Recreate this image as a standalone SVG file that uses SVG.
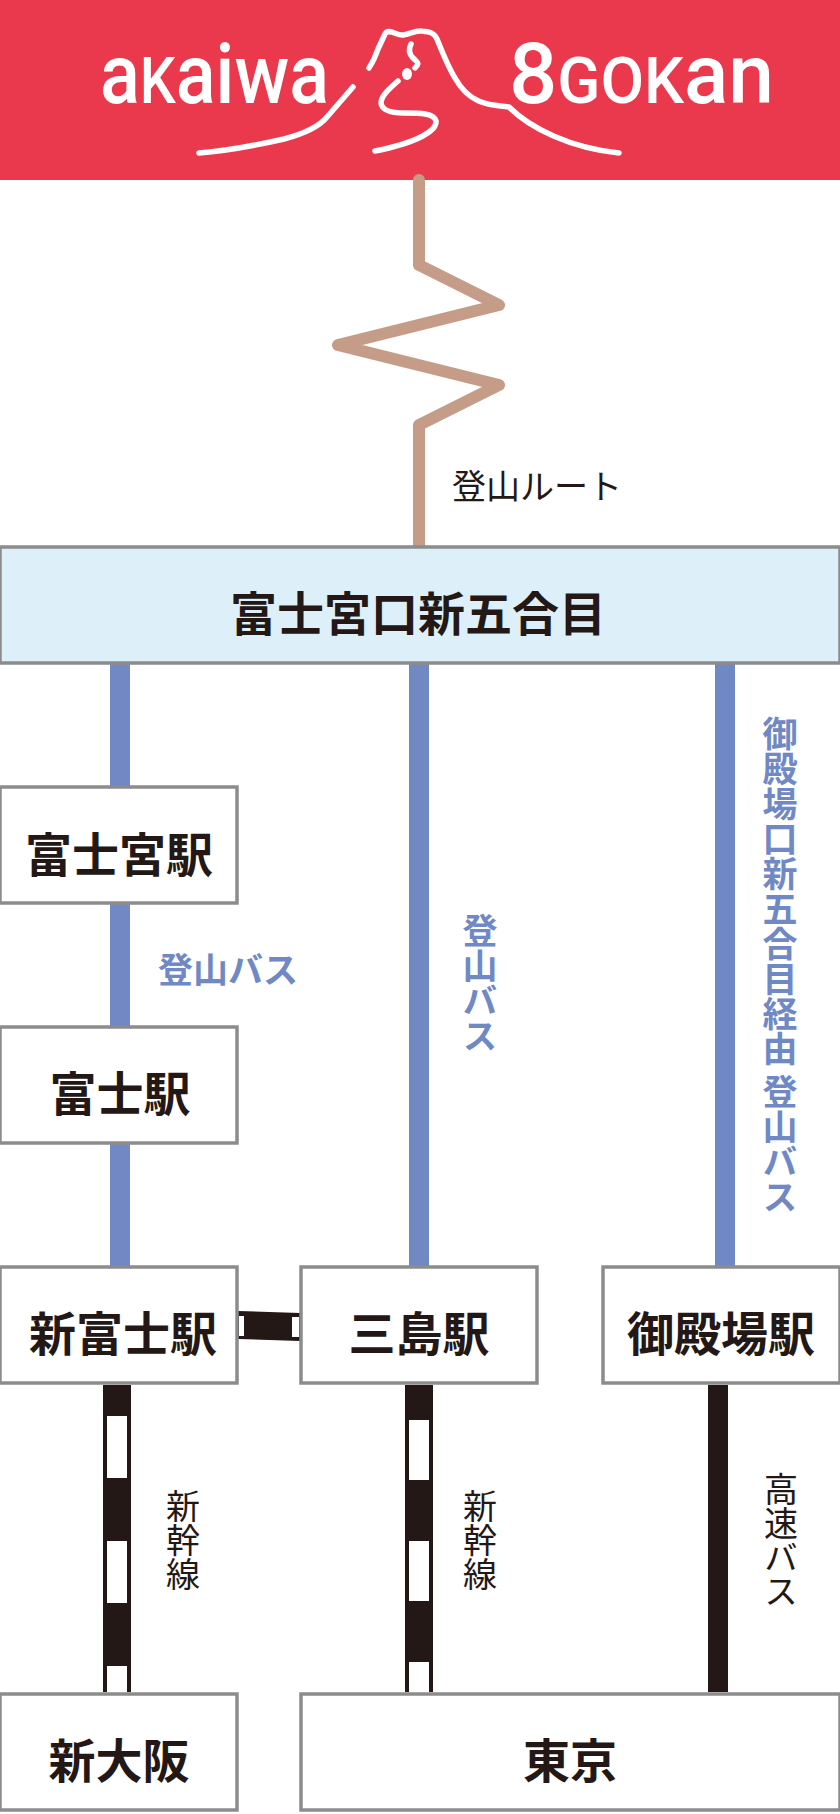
<svg xmlns="http://www.w3.org/2000/svg" width="840" height="1814" viewBox="0 0 840 1814">
<style>
.box{fill:#fff;stroke:#8c8c8c;stroke-width:3.5}
.t{font-family:"Noto Sans CJK JP","Noto Sans",sans-serif;font-weight:700;font-size:47px;fill:#231815;text-anchor:middle;dominant-baseline:central}
.blue{font-family:"Noto Sans CJK JP","Noto Sans",sans-serif;font-weight:700;font-size:35px;fill:#7089c5}
.thin{font-family:"Noto Sans CJK JP","Noto Sans",sans-serif;font-weight:400;font-size:34px;fill:#231815}
.v{writing-mode:vertical-rl;text-anchor:middle;dominant-baseline:central}
.logo{font-family:Roboto,"Liberation Sans",sans-serif;font-weight:500;font-size:83px;fill:#fff}
.lg{fill:none;stroke:#fff;stroke-width:5.5;stroke-linecap:round;stroke-linejoin:round}
.k{fill:#231815}.w{fill:#fff}.b{fill:#7089c5}
</style>
<g id="header">
<rect width="840" height="180" fill="#ea384d"/>
<text class="logo" x="100" y="103" textLength="229" lengthAdjust="spacingAndGlyphs">a<tspan font-size="64">K</tspan>aiwa</text>
<text class="logo" x="509" y="103" textLength="265" lengthAdjust="spacingAndGlyphs"><tspan font-size="86">8</tspan><tspan font-size="64">GOK</tspan>an</text>
<path class="lg" d="M199 153C225 151 262 144 284 139C303 134 318 128 327 117L353 87"/>
<path class="lg" d="M369 68C373 62 376 55 378 49L385 33C388 28 396 35 402 35C408 35 415 30 422 31C431 32 434 33 437 39C443 50 448 62 455 76C468 100 490 123 509 145C530 169 565 178 619 153" style="display:none"/>
<path class="lg" d="M369 68C373 62 376 55 378 49L385 34C388 28 396 35 402 35C408 35 415 30 422 31C431 32 434 33 437 39C443 50 449 68 457 80C470 102 488 121 509 145"  style="display:none"/>
<path class="lg" d="M369 68C373 62 376 55 378 49L385 34C388 28 396 35 402 35C408 35 415 30 422 31C431 32 434 33 437 39C441 49 450 70 455 78C470 105 490 105 509 107C530 128 570 148 619 153"/>
<path class="lg" d="M411 44C408 50 409 54 413 58C418 63 420 62 415 68"/>
<ellipse cx="407" cy="74" rx="5" ry="6" fill="#fff"/>
<path class="lg" d="M398 81C388 90 381 96 381 103C382 111 392 113 404 113C420 113 434 113 436 121C437 130 420 142 375 151"/>
</g>
<g id="connectors">
<path d="M419 180V265L499 305L338 345L499 385L419 425V546" fill="none" stroke="#c49c87" stroke-width="12" stroke-linecap="round" stroke-linejoin="round"/>
<rect class="b" x="110" y="664" width="20" height="602"/>
<rect class="b" x="409" y="664" width="20" height="602"/>
<rect class="b" x="715" y="664" width="20" height="602"/>
<g id="shinkansen-left">
<rect class="k" x="103" y="1385" width="28" height="307"/>
<rect class="w" x="107" y="1416" width="20" height="62"/>
<rect class="w" x="107" y="1541" width="20" height="62"/>
<rect class="w" x="107" y="1666" width="20" height="26"/>
</g>
<g id="shinkansen-mid">
<rect class="k" x="405" y="1385" width="28" height="307"/>
<rect class="w" x="409" y="1420" width="20" height="60"/>
<rect class="w" x="409" y="1541" width="20" height="60"/>
<rect class="w" x="409" y="1662" width="20" height="30"/>
</g>
<rect class="k" x="708" y="1385" width="20" height="307"/>
<g id="shinkansen-link">
<path class="k" d="M238 1311L300 1313V1341L238 1339Z"/>
<rect class="w" x="239" y="1316" width="5" height="20"/>
<rect class="w" x="292" y="1317" width="7" height="20"/>
</g>
</g>
<g id="node-fujinomiya-5">
<rect x="0" y="547" width="840" height="116" fill="#ddf0fa" stroke="#8c8c8c" stroke-width="3.5"/>
<text class="t" x="418" y="610">富士宮口新五合目</text>
</g>
<g id="node-fujinomiya"><rect class="box" x="0" y="787" width="237" height="116"/><text class="t" x="119" y="851">富士宮駅</text></g>
<g id="node-fuji"><rect class="box" x="0" y="1027" width="237" height="116"/><text class="t" x="120" y="1090">富士駅</text></g>
<g id="node-shinfuji"><rect class="box" x="0" y="1267" width="237" height="116"/><text class="t" x="123" y="1330">新富士駅</text></g>
<g id="node-mishima"><rect class="box" x="301" y="1267" width="236" height="116"/><text class="t" x="419" y="1330">三島駅</text></g>
<g id="node-gotemba"><rect class="box" x="603" y="1267" width="237" height="116"/><text class="t" x="721" y="1330">御殿場駅</text></g>
<g id="node-shinosaka"><rect class="box" x="0" y="1694" width="237" height="116"/><text class="t" x="119" y="1757">新大阪</text></g>
<g id="node-tokyo"><rect class="box" x="301" y="1694" width="539" height="116"/><text class="t" x="570" y="1757">東京</text></g>
<g id="labels">
<text class="thin" x="452" y="499">登山ルート</text>
<text class="blue" x="158" y="983">登山バス</text>
<text class="blue v" x="480" y="983">登山バス</text>
<text class="blue v" x="780" y="965">御殿場口新五合目経由 登山バス</text>
<text class="thin v" x="183" y="1540">新幹線</text>
<text class="thin v" x="480" y="1540">新幹線</text>
<text class="thin v" x="781" y="1540">高速バス</text>
</g>
</svg>
